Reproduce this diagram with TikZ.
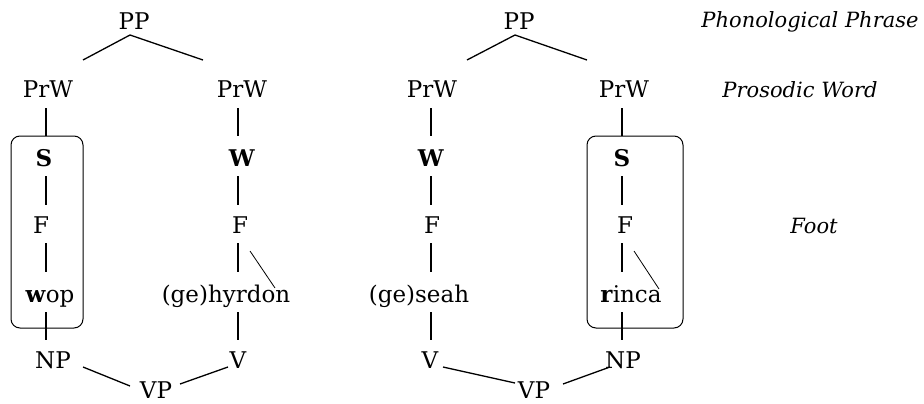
\documentclass[tikz,border=0pt]{standalone}
\usepackage{fontspec}
\setmainfont{DejaVu Serif}
\begin{document}
\begin{tikzpicture}[x=1pt,y=-1pt,
  lbl/.style={anchor=base,inner sep=0pt,font=\fontsize{23}{28}\selectfont},
  tier/.style={anchor=base,inner sep=0pt,font=\fontsize{21}{26}\selectfont\itshape},
  br/.style={line width=1.3pt},
  thin/.style={line width=0.8pt},
  footbox/.style={draw,line width=1pt,rounded corners=9pt}]
\useasboundingbox (0,0) rectangle (924,404);
% ---------- left tree ----------
\node[lbl] (ppA) at (134,30) {PP};
\node[lbl] (prwA) at (48,98) {PrW};
\node[lbl] (prwB) at (242,98) {PrW};
\node[lbl] (sA) at (44,166) {\textbf{S}};
\node[lbl] (wB) at (242,166) {\textbf{W}};
\node[lbl] (fA) at (41,233) {F};
\node[lbl] (fB) at (240,233) {F};
\node[lbl] (wop) at (50,302) {\textbf{w}op};
\node[lbl] (hyr) at (226,302) {(ge)hyrdon};
\node[lbl] (npA) at (53,368) {NP};
\node[lbl] (vA) at (238,368) {V};
\node[lbl] (vpA) at (156,398) {VP};
\draw[footbox] (11,136) rectangle (83,328);
\coordinate (a0) at (130,35); \coordinate (a1) at (83,60); \coordinate (a2) at (203,60);
\draw[br] (a1) -- (a0) -- (a2);
\foreach \x/\n in {46/c,238/d}{
  \coordinate (\n1) at (\x,108); \coordinate (\n2) at (\x,136);
  \coordinate (\n3) at (\x,176); \coordinate (\n4) at (\x,205);
  \coordinate (\n5) at (\x,243); \coordinate (\n6) at (\x,272);
  \coordinate (\n7) at (\x,312); \coordinate (\n8) at (\x,340);
  \draw[br] (\n1) -- (\n2) (\n3) -- (\n4) (\n5) -- (\n6) (\n7) -- (\n8);
}
\coordinate (dg1) at (250,251); \coordinate (dg2) at (275,288);
\draw[thin] (dg1) -- (dg2);
\coordinate (e1) at (83,367); \coordinate (e2) at (130,386);
\coordinate (e3) at (180,384); \coordinate (e4) at (228,367);
\draw[br] (e1) -- (e2) (e3) -- (e4);
% ---------- right tree ----------
\node[lbl] (ppB) at (519,30) {PP};
\node[lbl] (prwC) at (432,98) {PrW};
\node[lbl] (prwD) at (624,98) {PrW};
\node[lbl] (wC) at (431,166) {\textbf{W}};
\node[lbl] (sD) at (622,166) {\textbf{S}};
\node[lbl] (fC) at (432,233) {F};
\node[lbl] (fD) at (625,233) {F};
\node[lbl] (seah) at (419,302) {(ge)seah};
\node[lbl] (rinca) at (631,302) {\textbf{r}inca};
\node[lbl] (vC) at (430,368) {V};
\node[lbl] (npD) at (623,368) {NP};
\node[lbl] (vpB) at (534,398) {VP};
\draw[footbox] (587,136) rectangle (683,328);
\coordinate (b0) at (515,35); \coordinate (b1) at (467,60); \coordinate (b2) at (587,60);
\draw[br] (b1) -- (b0) -- (b2);
\foreach \x/\n in {431/g,622/h}{
  \coordinate (\n1) at (\x,108); \coordinate (\n2) at (\x,136);
  \coordinate (\n3) at (\x,176); \coordinate (\n4) at (\x,205);
  \coordinate (\n5) at (\x,243); \coordinate (\n6) at (\x,272);
  \coordinate (\n7) at (\x,312); \coordinate (\n8) at (\x,340);
  \draw[br] (\n1) -- (\n2) (\n3) -- (\n4) (\n5) -- (\n6) (\n7) -- (\n8);
}
\coordinate (dh1) at (634,251); \coordinate (dh2) at (659,289);
\draw[thin] (dh1) -- (dh2);
\coordinate (k1) at (443,367); \coordinate (k2) at (515,383);
\coordinate (k3) at (563,384); \coordinate (k4) at (610,367);
\draw[br] (k1) -- (k2) (k3) -- (k4);
% ---------- tier labels ----------
\node[tier] (tPP) at (810,28) {Phonological Phrase};
\node[tier] (tPrW) at (800,97) {Prosodic Word};
\node[tier] (tF) at (814,233) {Foot};
\end{tikzpicture}
\end{document}
